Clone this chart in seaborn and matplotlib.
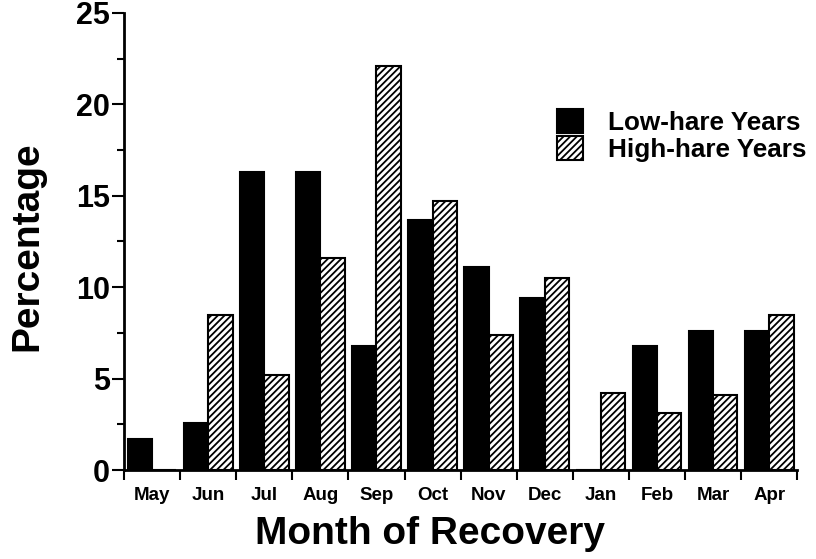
import numpy as np
import pandas as pd
import seaborn as sns
import matplotlib
matplotlib.use("Agg")
import matplotlib.pyplot as plt
from matplotlib.patches import Patch
from matplotlib.ticker import MultipleLocator

# Percentage of recoveries by month
months = ["May", "Jun", "Jul", "Aug", "Sep", "Oct", "Nov", "Dec", "Jan", "Feb", "Mar", "Apr"]
low_hare = [1.7, 2.6, 16.3, 16.3, 6.8, 13.7, 11.1, 9.4, 0.0, 6.8, 7.6, 7.6]
high_hare = [0.0, 8.5, 5.2, 11.6, 22.1, 14.7, 7.4, 10.5, 4.2, 3.1, 4.1, 8.5]
series = ["Low-hare Years", "High-hare Years"]

df = pd.DataFrame({
    "Month": months * 2,
    "Percentage": low_hare + high_hare,
    "Years": [series[0]] * len(months) + [series[1]] * len(months),
})

sns.set_style("ticks")
plt.rcParams["font.family"] = ["Liberation Sans", "DejaVu Sans"]
plt.rcParams["font.weight"] = "bold"
plt.rcParams["text.color"] = "black"
plt.rcParams["axes.labelcolor"] = "black"
plt.rcParams["xtick.color"] = "black"
plt.rcParams["ytick.color"] = "black"
plt.rcParams["hatch.linewidth"] = 1.3
plt.rcParams["hatch.color"] = "black"

fig = plt.figure(figsize=(8.16, 5.59), dpi=100)
ax = fig.add_axes([0.152, 0.159, 0.825, 0.818])

sns.barplot(
    data=df, x="Month", y="Percentage", hue="Years",
    order=months, hue_order=series, palette=["black", "white"],
    saturation=1, width=0.87, gap=0, edgecolor="black", linewidth=1.5,
    legend=False, ax=ax,
)
for bar in ax.containers[1]:
    bar.set_hatch("/////")

ax.set_xlim(-0.5, len(months) - 0.5)
ax.set_ylim(0, 25)

# ticks between months, labels centred under each month
ax.set_xticks(np.arange(-0.5, len(months), 1), labels=[])
ax.set_xticks(np.arange(len(months)), labels=months, minor=True)
ax.tick_params(axis="x", which="major", direction="out", length=7, width=1.5, color="black")
ax.tick_params(axis="x", which="minor", length=0, pad=12, labelsize=13.5, labelcolor="black")

ax.yaxis.set_major_locator(MultipleLocator(5))
ax.yaxis.set_minor_locator(MultipleLocator(2.5))
ax.tick_params(axis="y", which="major", direction="out", length=9, width=1.5, pad=1,
               labelsize=22, labelcolor="black")
ax.tick_params(axis="y", which="minor", direction="out", length=5, width=1.5)

for lab in ax.get_xticklabels(minor=True) + ax.get_yticklabels():
    lab.set_fontweight("bold")

sns.despine(ax=ax)
for side in ("left", "bottom"):
    ax.spines[side].set_linewidth(2)
    ax.spines[side].set_color("black")

ax.set_xlabel("Month of Recovery", fontsize=28, fontweight="bold", color="black")
ax.set_ylabel("Percentage", fontsize=28, fontweight="bold", color="black")
ax.xaxis.set_label_coords(0.455, -0.1)
ax.xaxis.label.set_va("top")
ax.yaxis.set_label_coords(-0.143, 0.49)
ax.yaxis.label.set_va("center")
ax.yaxis.label.set_ha("center")

handles = [
    Patch(facecolor="black", edgecolor="black", linewidth=1.5),
    Patch(facecolor="white", edgecolor="black", linewidth=1.5, hatch="/////"),
]
ax.legend(
    handles, series, loc="upper left", bbox_to_anchor=(0.643, 0.79),
    frameon=False, borderpad=0, borderaxespad=0, handlelength=1.0,
    handleheight=1.05, handletextpad=0.95, labelspacing=0.05,
    prop={"size": 18.8, "weight": "bold"}, labelcolor="black",
)

fig.savefig("out.png", dpi=100, facecolor="white")
